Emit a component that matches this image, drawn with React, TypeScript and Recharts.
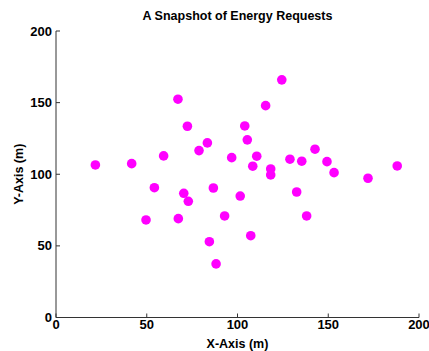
import React from 'react';
import { ScatterChart, Scatter, XAxis, YAxis } from 'recharts';

// request positions (metres)
const xValues = [
  21.7, 41.7, 59.3, 72.4, 104.0, 105.4, 83.4, 78.8, 96.8, 110.6, 108.4, 118.3,
  118.3, 128.9, 135.4, 142.7, 149.3, 153.2, 171.9, 188.0, 54.2, 70.4, 72.9, 86.7,
  101.5, 132.6, 49.6, 67.4, 92.9, 138.1, 107.3, 84.5, 88.2, 67.2, 115.5, 124.4,
];
const yValues = [
  106.5, 107.4, 112.8, 133.5, 133.7, 124.0, 121.9, 116.5, 111.6, 112.6, 105.6, 103.7,
  99.5, 110.5, 109.1, 117.5, 108.8, 101.1, 97.2, 105.8, 90.6, 86.7, 81.1, 90.4,
  84.8, 87.6, 68.1, 69.0, 70.9, 70.9, 57.1, 52.9, 37.4, 152.4, 147.9, 165.9,
];
const xTicks = [0, 50, 100, 150, 200];
const yTicks = [0, 50, 100, 150, 200];

const points = xValues.map((x, i) => ({ x, y: yValues[i] }));

const FONT = '"Liberation Sans", Arial, sans-serif';
const tickStyle = { fill: '#000', fontSize: 13, fontWeight: 'bold' as const, fontFamily: FONT };

export default function App() {
  return (
    <div style={{ position: 'absolute', left: 0, top: 0, width: 429, height: 351, background: '#fff' }}>
      <div
        style={{
          position: 'absolute',
          left: 56,
          width: 363,
          top: 9,
          textAlign: 'center',
          fontFamily: FONT,
          fontWeight: 'bold',
          fontSize: 12.5,
          color: '#000',
        }}
      >
        A Snapshot of Energy Requests
      </div>
      <ScatterChart width={429} height={351} margin={{ top: 31, right: 10, bottom: 0, left: 0 }}>
        <XAxis
          type="number"
          dataKey="x"
          domain={[0, 200]}
          ticks={xTicks}
          height={33.5}
          tickSize={-4}
          tickMargin={6}
          stroke="#333"
          tick={tickStyle}
          label={{
            value: 'X-Axis (m)',
            position: 'center',
            dy: 9,
            style: { fill: '#000', fontSize: 12.5, fontWeight: 'bold', fontFamily: FONT },
          }}
        />
        <YAxis
          type="number"
          dataKey="y"
          domain={[0, 200]}
          ticks={yTicks}
          width={56}
          tickSize={-4}
          tickMargin={8}
          stroke="#333"
          tick={tickStyle}
          label={{
            value: 'Y-Axis (m)',
            position: 'center',
            angle: -90,
            dx: -9,
            style: { fill: '#000', fontSize: 12.5, fontWeight: 'bold', fontFamily: FONT },
          }}
        />
        <Scatter
          data={points}
          fill="#ff00ff"
          isAnimationActive={false}
          shape={(props: any) => <circle cx={props.cx} cy={props.cy} r={4.8} fill="#ff00ff" />}
        />
      </ScatterChart>
    </div>
  );
}
